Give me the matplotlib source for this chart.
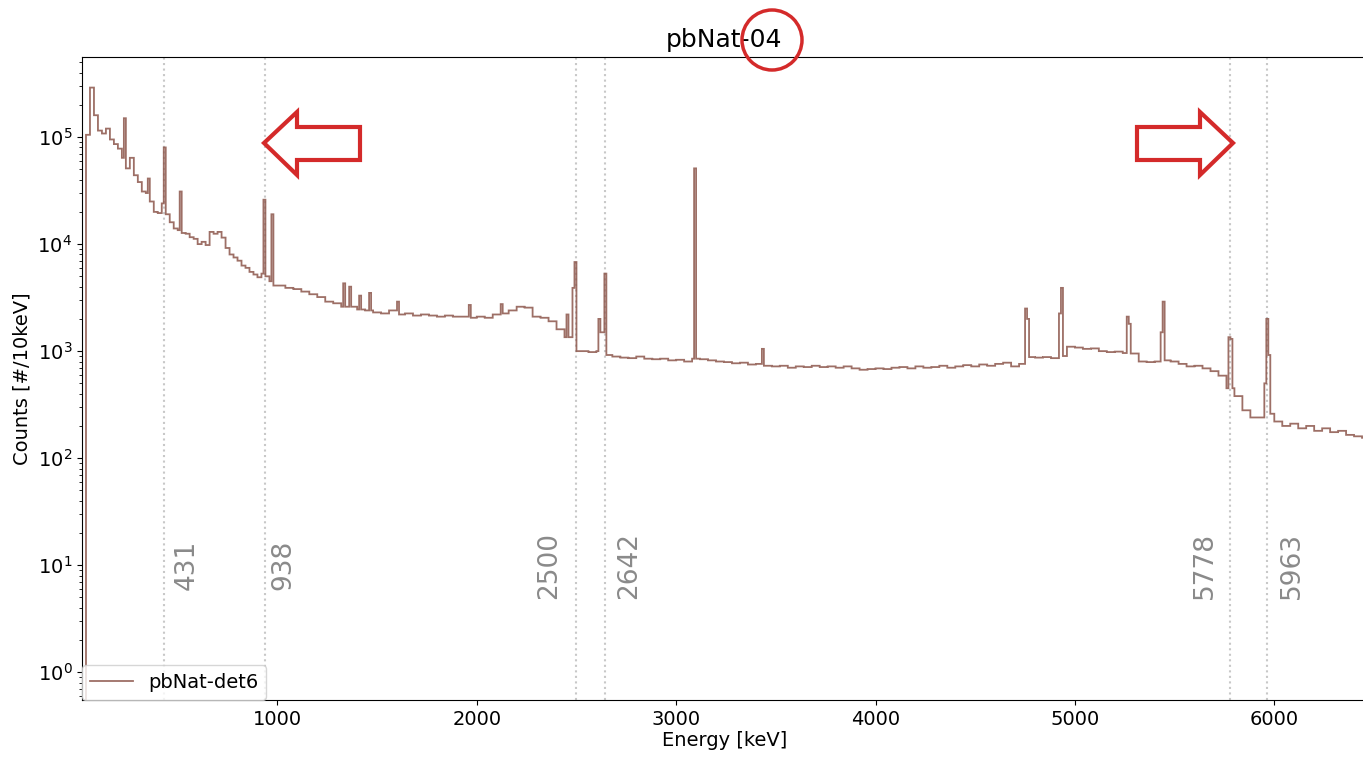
import numpy as np
import matplotlib
matplotlib.use("Agg")
import matplotlib.pyplot as plt
from matplotlib.patches import Polygon, Ellipse

# ---------------- data ----------------
title = "pbNat-04"
series_label = "pbNat-det6"

# low-energy continuum: 20 keV bins starting at 40 keV
low_start, low_width = 40, 20
low_counts = [1.05e5, 2.9e5, 1.6e5, 1.15e5, 1.08e5, 1.2e5, 9.5e4, 8.6e4, 7.8e4, 6.4e4,
              5.1e4, 6.4e4, 4.4e4, 3.8e4, 3.1e4, 3.0e4, 2.5e4, 2.0e4, 1.95e4, 2.4e4,
              1.9e4, 1.6e4, 1.4e4, 1.35e4, 1.27e4, 1.25e4, 1.16e4, 1.12e4, 1.0e4, 1.05e4,
              9.8e3, 1.3e4, 1.25e4, 1.3e4, 1.15e4, 9.2e3, 8.0e3, 7.5e3, 7.0e3, 6.3e3,
              6.0e3, 5.5e3, 5.2e3, 4.9e3, 5.3e3, 5.0e3, 4.5e3, 4.1e3]

# high-energy continuum: 40 keV bins starting at 1000 keV
high_start, high_width = 1000, 40
high_counts = [4.1e3, 3.9e3, 3.8e3, 3.6e3, 3.4e3, 3.2e3, 2.9e3, 2.8e3, 2.6e3, 2.6e3,
               2.45e3, 2.4e3, 2.3e3, 2.25e3, 2.4e3, 2.2e3, 2.25e3, 2.15e3, 2.2e3, 2.15e3,
               2.1e3, 2.15e3, 2.1e3, 2.1e3, 2.05e3, 2.1e3, 2.05e3, 2.2e3, 2.25e3, 2.4e3,
               2.6e3, 2.55e3, 2.1e3, 2.05e3, 1.9e3, 1.6e3, 1.35e3, 1.0e3, 1.0e3, 9.8e2,
               1.0e3, 9.2e2, 8.9e2, 8.7e2, 8.6e2, 8.9e2, 8.5e2, 8.4e2, 8.5e2, 8.2e2,
               8.3e2, 8.0e2, 8.5e2, 8.4e2, 8.2e2, 8.0e2, 7.9e2, 7.7e2, 7.8e2, 7.5e2,
               7.6e2, 7.3e2, 7.2e2, 7.3e2, 7.0e2, 7.2e2, 7.1e2, 7.3e2, 7.1e2, 7.2e2,
               7.0e2, 7.2e2, 6.9e2, 6.7e2, 6.8e2, 6.9e2, 6.8e2, 7.0e2, 7.1e2, 6.9e2,
               7.2e2, 7.0e2, 7.1e2, 7.3e2, 7.0e2, 7.2e2, 7.4e2, 7.2e2, 7.5e2, 7.3e2,
               7.6e2, 7.8e2, 7.2e2, 7.6e2, 8.8e2, 8.7e2, 8.8e2, 8.6e2, 9.0e2, 1.1e3,
               1.08e3, 1.05e3, 1.06e3, 1.0e3, 9.8e2, 9.9e2, 9.6e2, 9.5e2, 8.0e2, 7.9e2,
               8.0e2, 8.2e2, 8.0e2, 7.6e2, 7.2e2, 7.3e2, 6.9e2, 6.5e2, 5.9e2, 4.5e2,
               3.8e2, 2.8e2, 2.4e2, 2.4e2, 2.6e2, 2.2e2, 2.0e2, 2.1e2, 1.9e2, 2.0e2,
               1.8e2, 1.9e2, 1.75e2, 1.8e2, 1.65e2, 1.6e2, 1.55e2]

# narrow peak bins (10 keV): lower edge energy, counts
peak_energy = [70, 230, 260, 350, 430, 510, 930, 970,
               1330, 1360, 1410, 1460, 1600, 1960, 2120,
               2450, 2480, 2490, 2610, 2620, 2630, 2640, 3090, 3430,
               4750, 4760, 4920, 4930, 5260, 5270, 5430, 5440,
               5770, 5780, 5950, 5960, 5970]
peak_counts = [2.9e5, 1.5e5, 6.4e4, 4.1e4, 8.0e4, 3.1e4, 2.6e4, 1.9e4,
               4.3e3, 4.0e3, 3.3e3, 3.5e3, 2.9e3, 2.7e3, 2.75e3,
               2.2e3, 3.9e3, 6.8e3, 2.0e3, 1.5e3, 1.5e3, 5.3e3, 5.1e4, 1.05e3,
               2.5e3, 2.0e3, 2.25e3, 3.9e3, 2.1e3, 1.8e3, 1.5e3, 2.9e3,
               1.35e3, 1.3e3, 5.0e2, 2.0e3, 9.2e2]

# reference lines
line_energies = [431, 938, 2500, 2642, 5778, 5963]
line_label_x = [547, 1028, 2362, 2764, 5652, 6089]

# ---------------- build the 10 keV histogram ----------------
bw = 10
edges = np.arange(0, high_start + high_width * len(high_counts) + bw, bw)
centers = edges[:-1] + bw / 2
counts = np.full(len(centers), 0.1)
for i, c in enumerate(low_counts):
    lo = low_start + i * low_width
    counts[(centers >= lo) & (centers < lo + low_width)] = c
for i, c in enumerate(high_counts):
    lo = high_start + i * high_width
    counts[(centers >= lo) & (centers < lo + high_width)] = c
for e, c in zip(peak_energy, peak_counts):
    counts[(centers >= e) & (centers < e + bw)] = c

# ---------------- figure ----------------
W, H = 1363, 758
fig = plt.figure(figsize=(W / 100, H / 100), dpi=100)
L, R, T, B = 82, 1367, 57, 700
ax = fig.add_axes([L / W, 1 - B / H, (R - L) / W, (B - T) / H])

color = "#8c564b"
ax.stairs(counts, edges, color=color, linewidth=1.3, alpha=0.85,
          label=series_label, baseline=None)

ax.set_yscale("log")
ax.set_xlim(20, 20 + (R - L) / 0.19938)
ax.set_ylim(0.55, 5.6e5)

for e, tx in zip(line_energies, line_label_x):
    ax.axvline(e, color="#c8c8c8", linestyle=":", linewidth=1.5, zorder=0)
    ax.text(tx, 10, str(e), rotation=90, color="#8a8a8a", fontsize=19,
            ha="center", va="center")

ax.set_xticks([1000, 2000, 3000, 4000, 5000, 6000])
ax.tick_params(axis="both", labelsize=14)
ax.set_xlabel("Energy [keV]", fontsize=14, labelpad=2)
ax.set_ylabel("Counts [#/10keV]", fontsize=14)
ax.set_title(title, fontsize=18, pad=7)
ax.spines["right"].set_visible(False)

leg = ax.legend(loc="lower left", fontsize=14, borderaxespad=0.0, framealpha=0.8,
                handlelength=2.2)

# ---------------- red annotations (pixel coords -> figure coords) ----------------
def fp(pts):
    return [(x / W, 1 - y / H) for x, y in pts]

red = "#d42a2a"
left_arrow = [(264, 143), (297, 112), (297, 127), (360, 127), (360, 160),
              (297, 160), (297, 175)]
right_arrow = [(1233, 143), (1200, 175), (1200, 160), (1137, 160), (1137, 127),
               (1200, 127), (1200, 112)]
for pts in (left_arrow, right_arrow):
    fig.patches.append(Polygon(fp(pts), closed=True, fill=False, edgecolor=red,
                               linewidth=3, transform=fig.transFigure, joinstyle="miter"))
fig.patches.append(Ellipse((772 / W, 1 - 40 / H), 60 / W, 60 / H, fill=False,
                           edgecolor=red, linewidth=2.5, transform=fig.transFigure))

fig.savefig("out.png", dpi=100)
